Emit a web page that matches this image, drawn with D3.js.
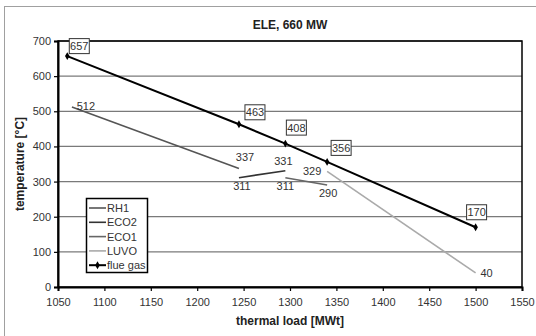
<!DOCTYPE html>
<html><head><meta charset="utf-8">
<script src="https://cdn.jsdelivr.net/npm/d3@7"></script>
<style>
html,body{margin:0;padding:0;background:#fff;}
svg{display:block;font-family:"Liberation Sans",Arial,sans-serif;}
</style></head>
<body>
<svg id="c" width="536" height="336"></svg>
<script>
// ---- data ----
const xTicks = [1050,1100,1150,1200,1250,1300,1350,1400,1450,1500,1550];
const yTicks = [0,100,200,300,400,500,600,700];
const seriesNames = ["RH1","ECO2","ECO1","LUVO","flue gas"];
const seriesColors = ["#555555","#333333","#666666","#aaaaaa","#000000"];
const rh1X = [1065,1245],  rh1Y = [512,337];
const eco2X = [1245,1295], eco2Y = [311,331];
const eco1X = [1295,1340], eco1Y = [311,290];
const luvoX = [1340,1500], luvoY = [329,40];
const flueX = [1060,1245,1295,1340,1500];
const flueY = [657,463,408,356,170];
// label offsets (pixels) for flue gas boxed labels
const flueLabelDx = [12,16,11,14,1];
const flueLabelDy = [-10,-12,-16,-14,-15];
// plain labels: x, y value, dx, dy
const plainLabX = [1065,1245,1245,1295,1295,1340,1340,1500];
const plainLabY = [512,337,311,331,311,329,290,40];
const plainLabDx = [14,6,3,-2,0,-15,1,11];
const plainLabDy = [-1,-12,8,-10,8,0,8,0];

const FS = 11;
const svg = d3.select("#c");
const x = d3.scaleLinear().domain([1050,1550]).range([58,522]);
const y = d3.scaleLinear().domain([0,700]).range([287,41]);

// outer frame
svg.append("rect").attr("x",4.5).attr("y",6.5).attr("width",540).attr("height",340)
  .attr("fill","none").attr("stroke","#a0a0a0").attr("stroke-width",1);

// gridlines
svg.append("g").selectAll("line").data(yTicks.filter(d=>d>0)).join("line")
  .attr("x1",x(1050)).attr("x2",x(1550)).attr("y1",d=>y(d)).attr("y2",d=>y(d))
  .attr("stroke","#7a7a7a").attr("stroke-width",1.3);

// plot frame (top/right)
svg.append("rect").attr("x",x(1050)).attr("y",y(700)).attr("width",x(1550)-x(1050)).attr("height",y(0)-y(700))
  .attr("fill","none").attr("stroke","#000").attr("stroke-width",1.5);

// axes
const yAxis = d3.axisLeft(y).tickValues(yTicks).tickFormat(d3.format("d")).tickSize(4).tickPadding(3);
const gy = svg.append("g").attr("transform",`translate(${x(1050)},0)`).call(yAxis);
const xAxis = d3.axisBottom(x).tickValues(xTicks).tickFormat(d3.format("d")).tickSize(4).tickPadding(7);
const gx = svg.append("g").attr("transform",`translate(0,${y(0)})`).call(xAxis);
[gx,gy].forEach(g=>{
  g.select(".domain").attr("stroke","#000").attr("stroke-width",2);
  g.selectAll(".tick line").attr("stroke","#000").attr("stroke-width",1.2);
  g.selectAll("text").attr("font-size",FS).attr("fill","#333").attr("font-family","'Liberation Sans',Arial,sans-serif");
});

// series lines
const line = d3.line().x(d=>x(d[0])).y(d=>y(d[1]));
const series = [
  d3.zip(rh1X,rh1Y), d3.zip(eco2X,eco2Y), d3.zip(eco1X,eco1Y), d3.zip(luvoX,luvoY), d3.zip(flueX,flueY)
];
series.forEach((s,i)=>{
  svg.append("path").attr("d",line(s)).attr("fill","none")
    .attr("stroke",seriesColors[i]).attr("stroke-width",i===4?2:1.6);
});
// flue gas markers
const diamond = d3.symbol().type(d3.symbolDiamond).size(18);
svg.append("g").selectAll("path").data(series[4]).join("path")
  .attr("d",diamond).attr("transform",d=>`translate(${x(d[0])},${y(d[1])})`).attr("fill","#000");

// boxed labels
series[4].forEach((d,i)=>{
  const cx = x(d[0])+flueLabelDx[i], cy = y(d[1])+flueLabelDy[i];
  svg.append("rect").attr("x",cx-10).attr("y",cy-7.5).attr("width",20).attr("height",15)
    .attr("fill","#fff").attr("stroke","#333").attr("stroke-width",1);
  svg.append("text").attr("x",cx).attr("y",cy+4).attr("text-anchor","middle")
    .attr("font-size",FS).attr("fill","#333").text(d[1]);
});
// plain labels
plainLabX.forEach((v,i)=>{
  svg.append("text").attr("x",x(v)+plainLabDx[i]).attr("y",y(plainLabY[i])+plainLabDy[i]+4)
    .attr("text-anchor","middle").attr("font-size",FS).attr("fill","#333").text(plainLabY[i]);
});

// title
svg.append("text").attr("x",290).attr("y",29).attr("text-anchor","middle")
  .attr("font-size",12).attr("font-weight","bold").attr("fill","#222").text("ELE, 660 MW");
// axis titles
svg.append("text").attr("x",290).attr("y",325).attr("text-anchor","middle")
  .attr("font-size",12).attr("font-weight","bold").attr("fill","#222").text("thermal load [MWt]");
svg.append("text").attr("transform","translate(24,164) rotate(-90)").attr("text-anchor","middle")
  .attr("font-size",12).attr("font-weight","bold").attr("fill","#222").text("temperature [°C]");

// legend
const lg = svg.append("g").attr("transform","translate(86,198)");
lg.append("rect").attr("x",0.5).attr("y",0.5).attr("width",61).attr("height",74)
  .attr("fill","#fff").attr("stroke","#000").attr("stroke-width",1.5);
seriesNames.forEach((n,i)=>{
  const yy = 10 + i*14.3;
  lg.append("line").attr("x1",3).attr("x2",20).attr("y1",yy).attr("y2",yy)
    .attr("stroke",seriesColors[i]).attr("stroke-width",i===4?2:1.6);
  if(i===4) lg.append("path").attr("d",diamond).attr("transform",`translate(11.5,${yy})`).attr("fill","#000");
  lg.append("text").attr("x",21).attr("y",yy+4).attr("font-size",FS).attr("fill","#333").text(n);
});
</script>
</body></html>
